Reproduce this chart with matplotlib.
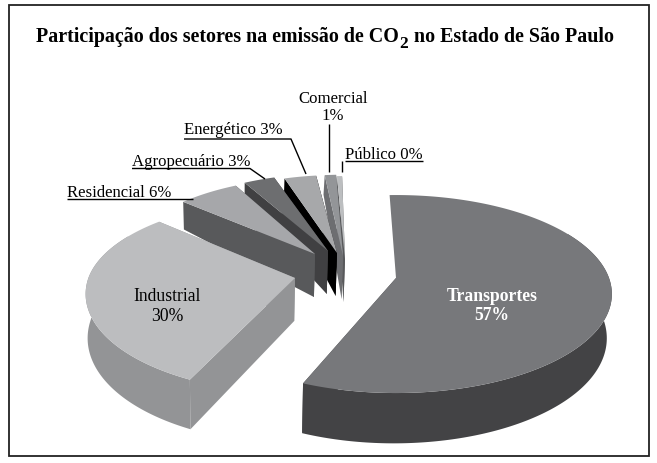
import numpy as np
import matplotlib
matplotlib.use("Agg")
import matplotlib.pyplot as plt
from matplotlib.patches import Polygon, Rectangle

plt.rcParams['font.family'] = ['Liberation Serif', 'DejaVu Serif']

# Data (clockwise from the top)
sectors = ['Transportes', 'Industrial', 'Residencial', 'Agropecuário', 'Energético', 'Comercial', 'Público']
shares = [56.6, 29.8, 5.9, 3.0, 3.1, 1.1, 0.5]
percent_labels = ['57%', '30%', '6%', '3%', '3%', '1%', '0%']
top_colors = ['#77787b', '#bcbdbf', '#a6a7aa', '#6d6e70', '#a7a8aa', '#939598', '#bcbec0']
side_colors = ['#434345', '#939496', '#58595b', '#404042', '#000000', '#6d6e71', '#58595b']

# Exploded apex, rotation and shrink of each slice (3-D projection settings)
apex = [(396, 279), (295, 279), (315, 255), (328, 252), (337, 254), (343, 257), (345, 260)]
rot = [0, 4, 1.5, 0, 0.5, 1.4, 1]
x_shrink = [1.0, 0.97, 0.9, 0.9, 0.9, 0.9, 0.9]
y_back_shrink = [1.0, 0.95, 0.92, 0.93, 0.94, 0.98, 1.0]
start_wall = [False, True, True, True, True, True, True]
START = -2.0
RX, RY, K, D = 213.0, 96.4, 0.162, 43.0
CONVERGE, VANISH_X = 0.0134, 235.0


def depth_of(Y):
    return D * (1 - np.where(Y > 0, 0.55, 0.17) * Y)


def project(a_deg, ap, xs, ys):
    a = np.radians(a_deg)
    X, Y = np.sin(a), np.cos(a)
    s = 1 / (1 + K * Y)
    return ap[0] + RX * xs * X * s, ap[1] - RY * Y * s * np.where(Y > 0, ys, 1.0), depth_of(Y)


fig = plt.figure(figsize=(6.57, 4.64), dpi=100, facecolor='white')
ax = fig.add_axes([0, 0, 1, 1])
ax.set_xlim(0, 657)
ax.set_ylim(464, 0)
ax.axis('off')
ax.add_patch(Rectangle((9, 6), 640, 451, fc='white', ec='#222222', lw=1.3, zorder=0))

edges = START + np.concatenate([[0], np.cumsum(shares)]) * 3.6
for i in reversed(range(len(shares))):
    angs = np.linspace(edges[i], edges[i + 1], max(int(shares[i] * 4), 4)) + rot[i]
    px, py, dp = project(angs, apex[i], x_shrink[i], y_back_shrink[i])
    xs = np.r_[apex[i][0], px]
    ys = np.r_[apex[i][1], py]
    ds = np.r_[D, dp]
    xb = xs + (VANISH_X - xs) * CONVERGE
    yb = ys + ds
    # arc wall only where the rim faces the viewer
    front = np.r_[False, (angs % 360 > 60) & (angs % 360 < 300)]
    if front.sum() > 1:
        ax.add_patch(Polygon(np.r_[np.c_[xs[front], ys[front]], np.c_[xb[front], yb[front]][::-1]],
                             fc=side_colors[i], ec='none', zorder=2))
    for a_idx, on in ((1, start_wall[i]), (-1, True)):
        if on:
            ax.add_patch(Polygon([(xs[0], ys[0]), (xs[a_idx], ys[a_idx]), (xb[a_idx], yb[a_idx]), (xb[0], yb[0])],
                                 fc=side_colors[i], ec='none', zorder=2))
    ax.add_patch(Polygon(np.c_[xs, ys], fc=top_colors[i], ec='none', zorder=2))

# Title with a true subscript, laid out piece by piece
renderer = fig.canvas.get_renderer()
x = 36.0
TITLE_Y = 42
for txt, size, dy in [('Participação dos setores na emissão de CO', 14.4, 0), ('2', 12.5, 6),
                      (' no Estado de São Paulo', 14.4, 0)]:
    t = ax.text(x, TITLE_Y + dy, txt.replace(' ', '\u00a0'), ha='left', va='baseline', fontsize=size,
                fontweight='bold', color='black', zorder=3)
    x = t.get_window_extent(renderer).x1 + 0.5

big, small = 12.7, 12.1
ax.text(492, 306, f'{sectors[0]}\n{percent_labels[0]}', ha='center', va='center', fontsize=big,
        fontweight='bold', color='white', linespacing=1.2, zorder=3)
ax.text(167.5, 306.5, f'{sectors[1]}\n{percent_labels[1]}', ha='center', va='center', fontsize=big,
        color='black', linespacing=1.2, zorder=3)
ax.text(67, 197, f'{sectors[2]} {percent_labels[2]}', ha='left', va='baseline', fontsize=small)
ax.text(132, 165.7, f'{sectors[3]} {percent_labels[3]}', ha='left', va='baseline', fontsize=small)
ax.text(184, 134, f'{sectors[4]} {percent_labels[4]}', ha='left', va='baseline', fontsize=small)
ax.text(333, 120, f'{sectors[5]}\n{percent_labels[5]}', ha='center', va='baseline', fontsize=small, linespacing=1.05)
ax.text(345, 159, f'{sectors[6]} {percent_labels[6]}', ha='left', va='baseline', fontsize=small)

leaders = [
    [(67, 199.5), (193, 199.5)],
    [(132, 169.5), (250, 169.5), (265, 180)],
    [(184, 140), (291, 140), (306, 175)],
    [(329, 125), (329, 173)],
    [(345, 162), (423, 162)],
    [(342, 162), (342, 173)],
]
for pts in leaders:
    p = np.array(pts)
    ax.plot(p[:, 0], p[:, 1], color='black', lw=1.0, solid_capstyle='butt', zorder=3)

fig.savefig('out.png', dpi=100)
